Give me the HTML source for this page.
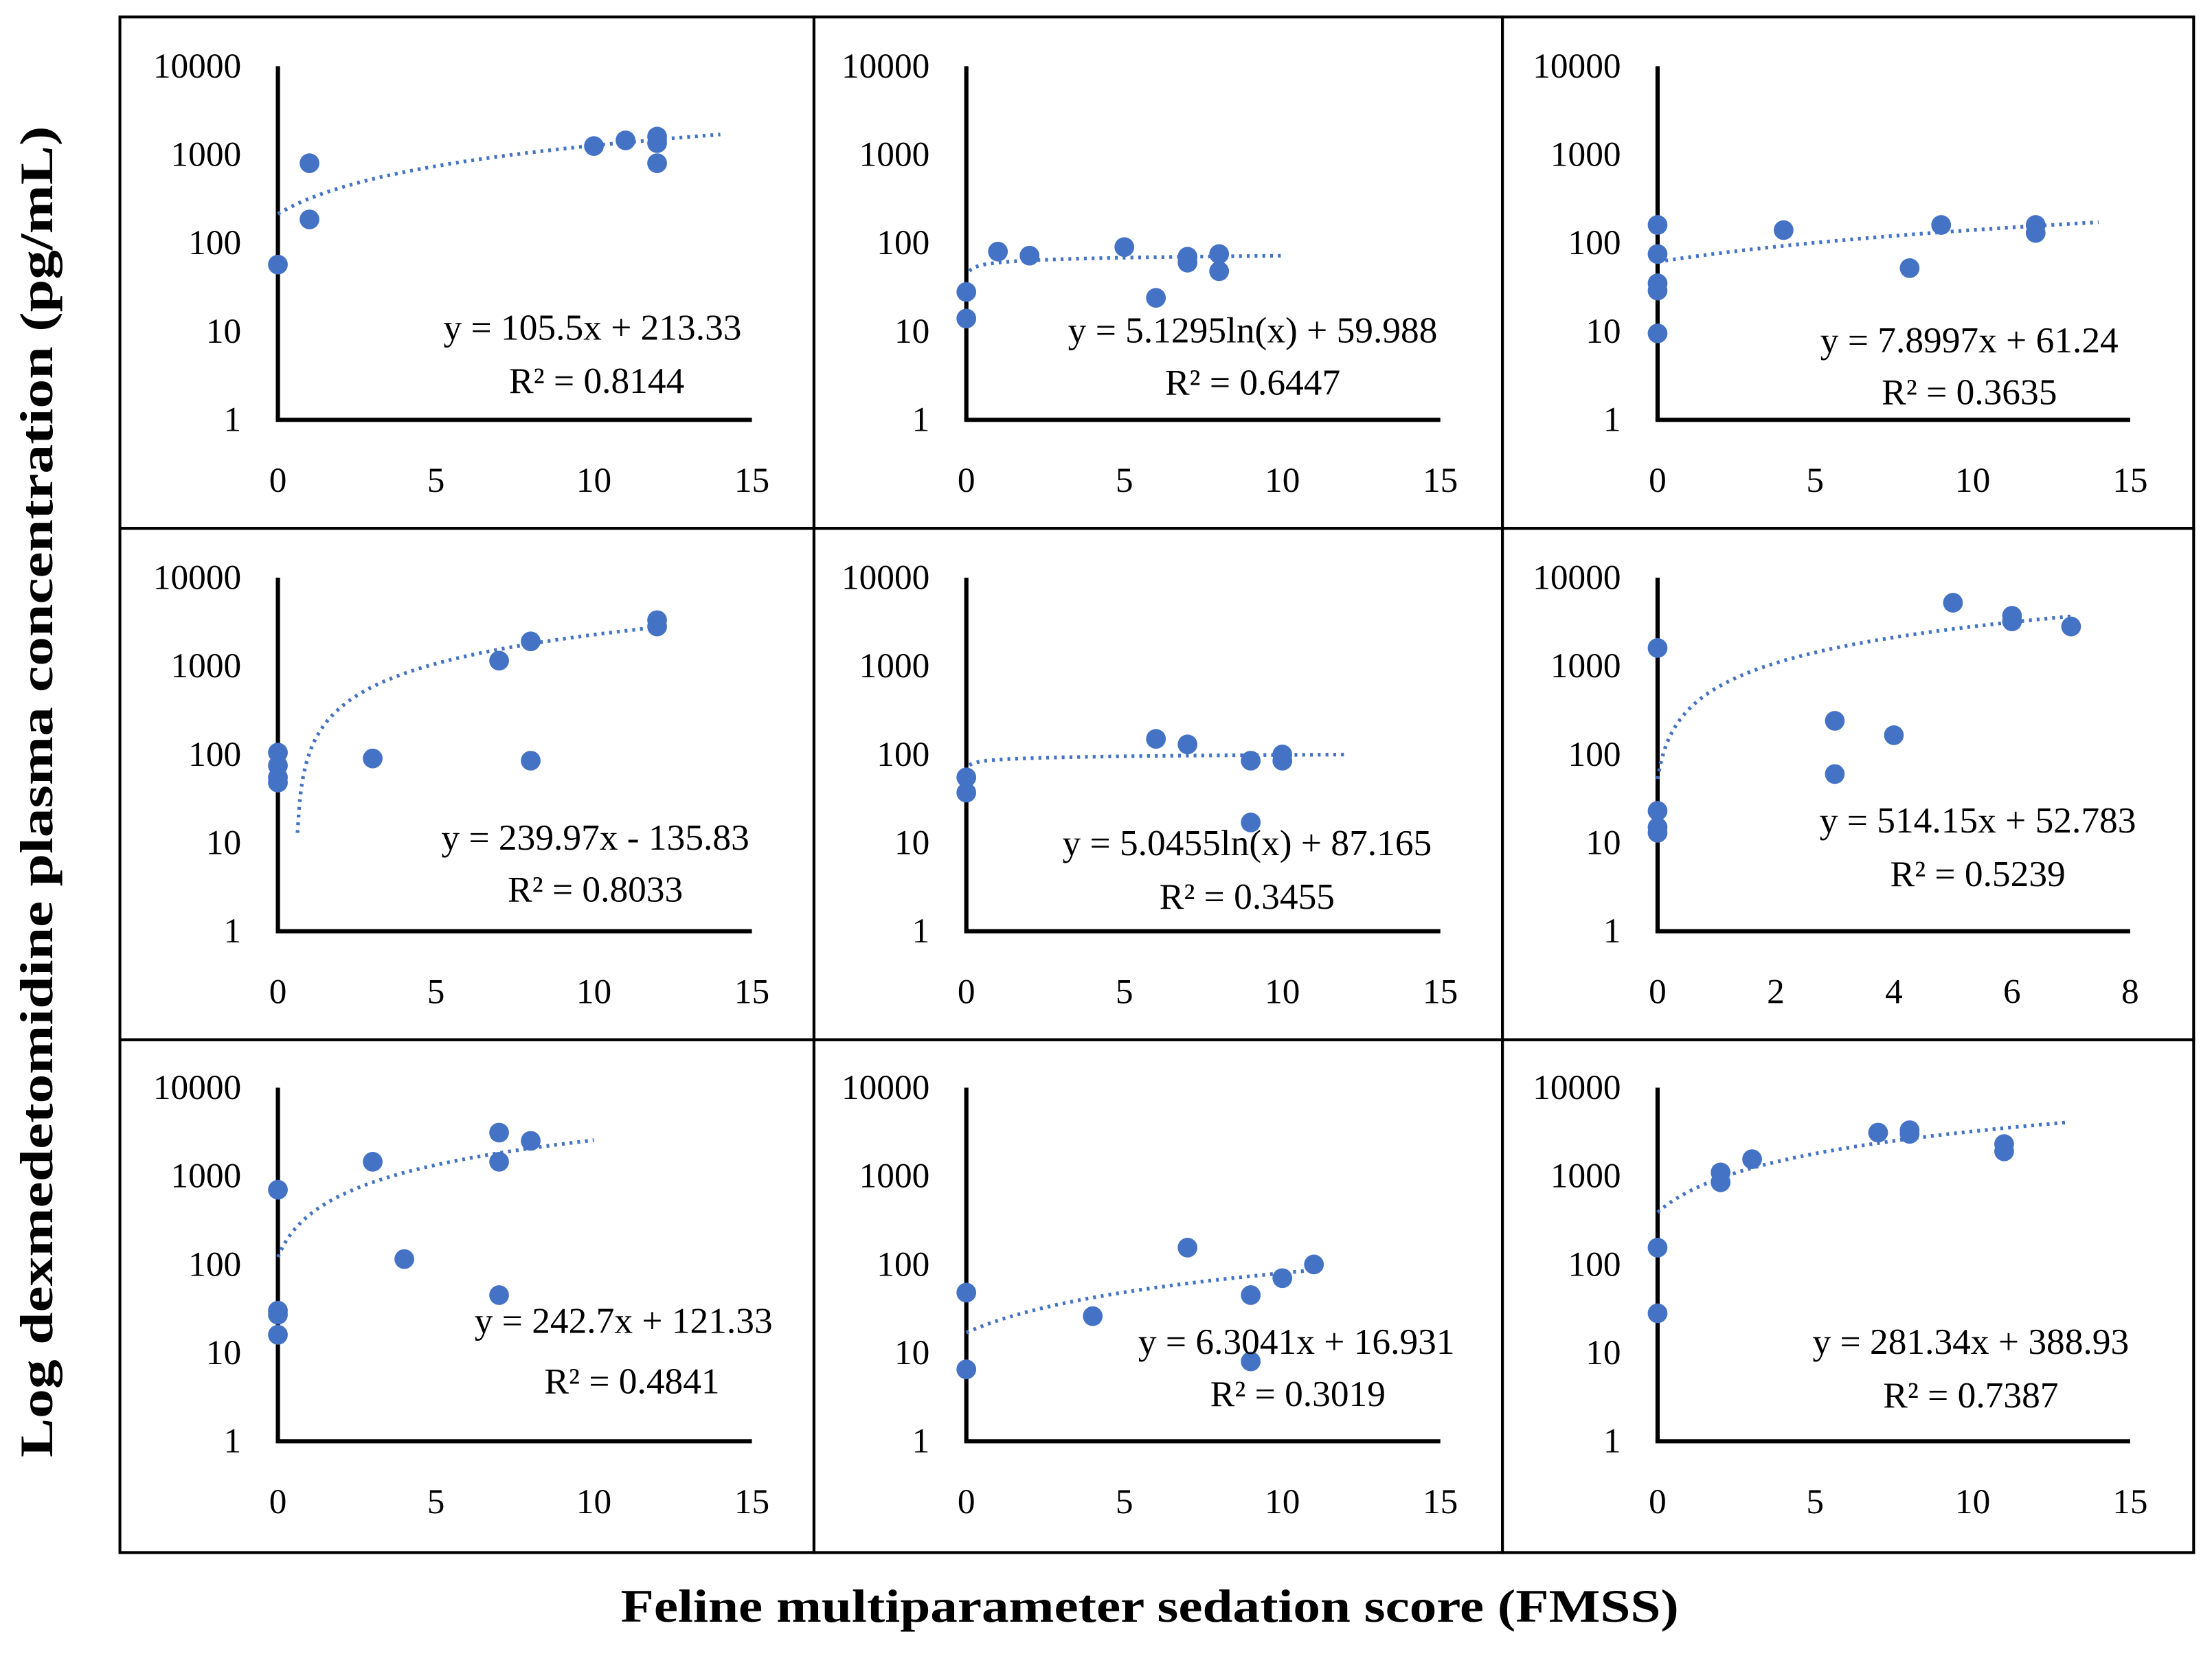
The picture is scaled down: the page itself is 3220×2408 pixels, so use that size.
<!DOCTYPE html>
<html><head><meta charset="utf-8"><style>
html,body{margin:0;padding:0;background:#fff}
svg{display:block}
text{font-family:"Liberation Serif",serif}
</style></head><body>
<svg id="chart" width="3220" height="2408" viewBox="0 0 1568 1174" preserveAspectRatio="none" xmlns="http://www.w3.org/2000/svg">
<text x="0" y="0" transform="translate(37,562) rotate(-90)" text-anchor="middle" font-size="33" font-weight="bold" textLength="945" lengthAdjust="spacingAndGlyphs">Log dexmedetomidine plasma concentration (pg/mL)</text>
<text x="815" y="1151" text-anchor="middle" font-size="33" font-weight="bold" textLength="750" lengthAdjust="spacingAndGlyphs">Feline multiparameter sedation score (FMSS)</text>
</svg>
<script>
const p1x=[0,1,1,10,11,12,12,12], p1y=[57,800,185,1250,1450,1600,1350,800];
const p2x=[0,0,1,2,5,6,7,7,8,8], p2y=[28,14,80,72,90,24,70,60,75,48];
const p3x=[0,0,0,0,0,4,8,9,12,12], p3y=[160,75,35,29,9.5,140,52,160,160,130];
const p4x=[0,0,0,0,3,7,8,8,12,12], p4y=[105,75,55,48,90,1150,1900,85,3300,2800];
const p5x=[0,0,6,7,9,9,10,10], p5y=[55,37,150,130,85,17,100,85];
const p6x=[0,0,0,0,3,3,4,5,6,6,7], p6y=[1600,23,15,13,240,60,165,5200,3700,3200,2800];
const p7x=[0,0,0,0,3,4,7,7,7,8], p7y=[700,30,27,16,1450,115,3100,1450,45,2500];
const p8x=[0,0,4,7,9,9,10,11], p8y=[48,6.5,26,155,45,8,70,100];
const p9x=[0,0,2,2,3,7,8,8,11,11], p9y=[155,28,1100,850,1550,3100,3300,3000,2300,1900];
const eqText=["y = 105.5x + 213.33","y = 5.1295ln(x) + 59.988","y = 7.8997x + 61.24","y = 239.97x - 135.83","y = 5.0455ln(x) + 87.165","y = 514.15x + 52.783","y = 242.7x + 121.33","y = 6.3041x + 16.931","y = 281.34x + 388.93"];
const r2Text=["R² = 0.8144","R² = 0.6447","R² = 0.3635","R² = 0.8033","R² = 0.3455","R² = 0.5239","R² = 0.4841","R² = 0.3019","R² = 0.7387"];
const fitType=["lin","ln","lin","lin","ln","lin","lin","lin","lin"];
const fitA=[105.5,5.1295,7.8997,239.97,5.0455,514.15,242.7,6.3041,281.34];
const fitB=[213.33,59.988,61.24,-135.83,87.165,52.783,121.33,16.931,388.93];
const fitStart=[0,0.1,0,0.62,0.1,0,0,0,0];
const fitEnd=[14,10,14,12,12,7,10,11,13];
const xMax=[15,15,15,15,15,8,15,15,15];
const xTicks15=[0,5,10,15], xTicks8=[0,2,4,6,8];
const yTicks=[1,10,100,1000,10000];

const P=[[p1x,p1y],[p2x,p2y],[p3x,p3y],[p4x,p4y],[p5x,p5y],[p6x,p6y],[p7x,p7y],[p8x,p8y],[p9x,p9y]];
const colL=[85,577,1065], colR=[577,1065,1555], rowT=[12,375,738], rowB=[375,738,1102];
const axX=[197,685,1175], axR=[533,1021,1510];
const axTop=[47,410,772], axBot=[298,661,1023];
const eqPos=[[420,232,423,270],[888,234,888,271],[1396,241,1396,278],[422,594,422,631],[884,598,884,636],[1402,582,1402,620],[442,937,448,980],[919,952,920,989],[1397,952,1397,990]];
const svg=document.getElementById('chart');
const NS='http://www.w3.org/2000/svg';
function mk(tag,at,parent){const e=document.createElementNS(NS,tag);for(const k in at)e.setAttribute(k,at[k]);(parent||svg).appendChild(e);return e;}
for(let i=0;i<9;i++){
  const r=Math.floor(i/3), c=i%3;
  const g=mk('g',{});
  
  
  const box=mk('rect',{x:colL[c],y:rowT[r],width:colR[c]-colL[c],height:rowB[r]-rowT[r],fill:'none',stroke:'#000','stroke-width':2},g);
  
  
  const x0=axX[c], x1=axR[c], yT=axTop[r], yB=axBot[r], xm=xMax[i];
  const sx=v=>x0+(x1-x0)*v/xm;
  const sy=v=>yB-(yB-yT)*Math.log10(v)/4;
  const ya=mk('line',{x1:x0,y1:yT,x2:x0,y2:yB,stroke:'#000','stroke-width':3},g);
  
  
  const xa=mk('line',{x1:x0-1.5,y1:yB,x2:x1,y2:yB,stroke:'#000','stroke-width':3},g);
  
  
  yTicks.forEach(t=>{const e=mk('text',{x:x0-26,y:sy(t)+8,'text-anchor':'end','font-size':25},g);e.textContent=t;
    
    });
  (xm===8?xTicks8:xTicks15).forEach(t=>{const e=mk('text',{x:sx(t),y:yB+51,'text-anchor':'middle','font-size':25},g);e.textContent=t;
    
    });
  let pts=[];
  for(let k=0;k<=200;k++){const xv=fitStart[i]+(fitEnd[i]-fitStart[i])*k/200;
    let yv=fitType[i]==='ln'?fitA[i]*Math.log(xv)+fitB[i]:fitA[i]*xv+fitB[i];
    if(yv<=0)continue; pts.push(sx(xv).toFixed(2)+','+sy(yv).toFixed(2));}
  const tl=mk('polyline',{points:pts.join(' '),fill:'none',stroke:'#4472C4','stroke-width':2.6,'stroke-dasharray':'2 3.5'},g);
  
  
  const [xs,ys]=P[i];
  xs.forEach((xv,k)=>{const d=mk('circle',{cx:sx(xv),cy:sy(ys[k]),r:7,fill:'#4472C4'},g);
    
    });
  const ep=eqPos[i];
  const e1=mk('text',{x:ep[0],y:ep[1]+9,'text-anchor':'middle','font-size':26},g);e1.textContent=eqText[i];
  
  
  const e2=mk('text',{x:ep[2],y:ep[3]+9,'text-anchor':'middle','font-size':26},g);e2.textContent=r2Text[i];
  
  
}
</script>
</body></html>
